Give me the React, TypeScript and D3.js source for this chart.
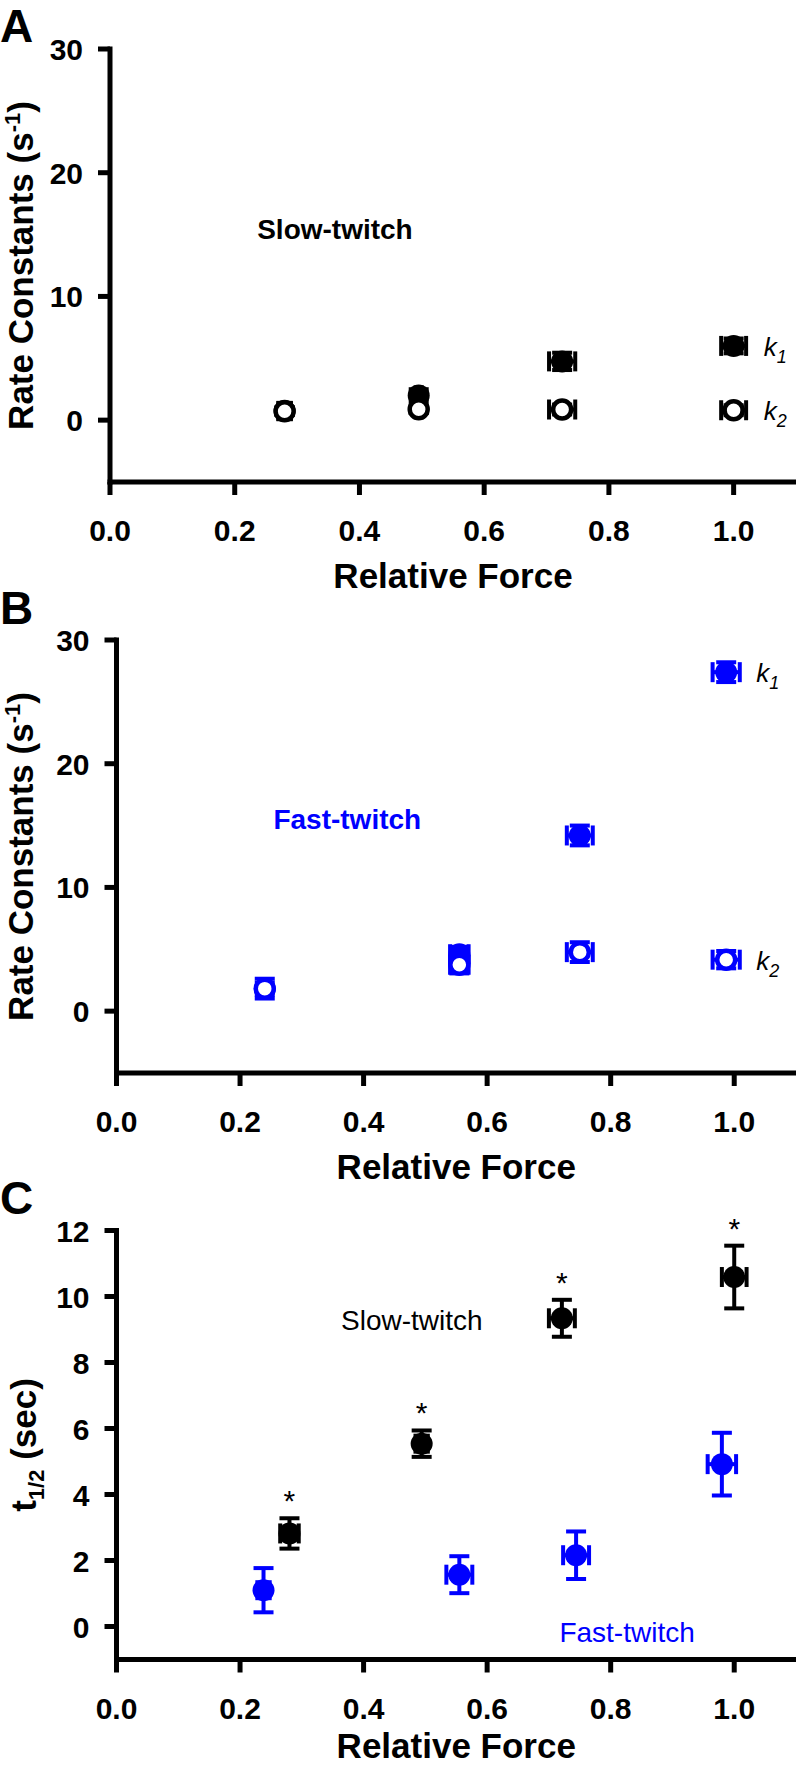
import React from 'react';
import * as d3 from 'd3';

const FONT = '"Liberation Sans", Arial, Helvetica, sans-serif';
const BLACK = '#000000';
const BLUE = '#0000ff';

// ---------- Panel A : slow-twitch rate constants ----------
const forceA = [0.28, 0.495, 0.725, 1.0];
const forceErrA = [0.01, 0.005, 0.021, 0.02];
const k1A = [0.75, 2.0, 4.75, 6.0];
const k1ErrA = [0.3, 0.5, 0.7, 0.6];
const k2A = [0.72, 0.88, 0.86, 0.8];
const k2ErrA = [0.3, 0.3, 0.4, 0.4];

// ---------- Panel B : fast-twitch rate constants ----------
const forceB = [0.24, 0.555, 0.75, 0.987];
const forceErrB = [0.008, 0.015, 0.021, 0.022];
const k1B = [1.8, 4.6, 14.2, 27.4];
const k1ErrB = [0.5, 0.6, 0.8, 0.8];
const k2B = [1.82, 3.75, 4.77, 4.16];
const k2ErrB = [0.8, 0.7, 0.8, 0.7];

// ---------- Panel C : t1/2 ----------
const forceSlowC = [0.28, 0.494, 0.721, 1.0];
const forceErrSlowC = [0.015, 0.01, 0.021, 0.02];
const tHalfSlow = [2.82, 5.54, 9.34, 10.59];
const tHalfErrSlow = [0.46, 0.4, 0.56, 0.95];
const significantSlow = [true, true, true, true];

const forceFastC = [0.238, 0.555, 0.744, 0.98];
const forceErrFastC = [0.01, 0.021, 0.021, 0.023];
const tHalfFast = [1.1, 1.57, 2.16, 4.92];
const tHalfErrFast = [0.67, 0.56, 0.72, 0.95];

const xTicks = [0, 0.2, 0.4, 0.6, 0.8, 1.0];
const yTicksRate = [0, 10, 20, 30];
const yTicksT = [0, 2, 4, 6, 8, 10, 12];

type Series = {
  x: number[];
  xe: number[];
  y: number[];
  ye: number[];
  color: string;
  open: boolean;
  label?: string;
  stars?: boolean[];
};

type Ann = { text: string; x: number; y: number; color: string; bold: boolean };

type PanelCfg = {
  letter: string;
  letterY: number;
  xRange: [number, number];
  yDomain: [number, number];
  yRange: [number, number];
  yTicks: number[];
  titleType: 'rate' | 'thalf';
  titleX: number;
  xTitleOffset: number;
  series: Series[];
  ann: Ann[];
};

const panels: PanelCfg[] = [
  {
    letter: 'A',
    letterY: 42,
    xRange: [110, 796],
    yDomain: [-5, 30],
    yRange: [482, 49],
    yTicks: yTicksRate,
    titleType: 'rate',
    titleX: 33,
    xTitleOffset: 106,
    series: [
      { x: forceA, xe: forceErrA, y: k1A, ye: k1ErrA, color: BLACK, open: false, label: '1' },
      { x: forceA, xe: forceErrA, y: k2A, ye: k2ErrA, color: BLACK, open: true, label: '2' },
    ],
    ann: [{ text: 'Slow-twitch', x: 0.236, y: 14.66, color: BLACK, bold: true }],
  },
  {
    letter: 'B',
    letterY: 624,
    xRange: [116.5, 796],
    yDomain: [-5, 30],
    yRange: [1073, 640],
    yTicks: yTicksRate,
    titleType: 'rate',
    titleX: 33,
    xTitleOffset: 106,
    series: [
      { x: forceB, xe: forceErrB, y: k1B, ye: k1ErrB, color: BLUE, open: false, label: '1' },
      { x: forceB, xe: forceErrB, y: k2B, ye: k2ErrB, color: BLUE, open: true, label: '2' },
    ],
    ann: [{ text: 'Fast-twitch', x: 0.254, y: 14.7, color: BLUE, bold: true }],
  },
  {
    letter: 'C',
    letterY: 1214,
    xRange: [116.5, 796],
    yDomain: [-1, 12],
    yRange: [1659.5, 1230.5],
    yTicks: yTicksT,
    titleType: 'thalf',
    titleX: 36,
    xTitleOffset: 98.5,
    series: [
      { x: forceFastC, xe: forceErrFastC, y: tHalfFast, ye: tHalfErrFast, color: BLUE, open: false },
      {
        x: forceSlowC,
        xe: forceErrSlowC,
        y: tHalfSlow,
        ye: tHalfErrSlow,
        color: BLACK,
        open: false,
        stars: significantSlow,
      },
    ],
    ann: [
      { text: 'Slow-twitch', x: 0.3635, y: 8.98, color: BLACK, bold: false },
      { text: 'Fast-twitch', x: 0.717, y: -0.46, color: BLUE, bold: false },
    ],
  },
];

const AXIS_W = 5;
const CAP = 10;
const ERR_W = 4;

function Panel({ cfg }: { cfg: PanelCfg }) {
  const xs = d3.scaleLinear().domain([0, 1.1]).range(cfg.xRange);
  const ys = d3.scaleLinear().domain(cfg.yDomain).range(cfg.yRange);
  const x0 = xs(0);
  const yBottom = ys(cfg.yDomain[0]);
  const yTop = ys(cfg.yDomain[1]);
  const fmt = d3.format('.1f');
  const yMid = (yTop + yBottom) / 2;
  const xMid = (xs(0) + xs(1.1)) / 2;

  return (
    <g>
      <text x={0} y={cfg.letterY} fontFamily={FONT} fontWeight="bold" fontSize={46} fill="#000">
        {cfg.letter}
      </text>

      {/* axes */}
      <line x1={x0} x2={x0} y1={yTop - AXIS_W / 2} y2={yBottom + AXIS_W / 2} stroke="#000" strokeWidth={AXIS_W} />
      <line x1={x0 - AXIS_W / 2} x2={xs(1.1)} y1={yBottom} y2={yBottom} stroke="#000" strokeWidth={AXIS_W} />

      {cfg.yTicks.map((t) => (
        <g key={'yt' + t}>
          <line x1={x0 - 12} x2={x0} y1={ys(t)} y2={ys(t)} stroke="#000" strokeWidth={AXIS_W} />
          <text
            x={x0 - 27}
            y={ys(t) + 11}
            textAnchor="end"
            fontFamily={FONT}
            fontWeight="bold"
            fontSize={30}
            fill="#000"
          >
            {t}
          </text>
        </g>
      ))}
      {xTicks.map((t) => (
        <g key={'xt' + t}>
          <line x1={xs(t)} x2={xs(t)} y1={yBottom} y2={yBottom + 13} stroke="#000" strokeWidth={AXIS_W} />
          <text
            x={xs(t)}
            y={yBottom + 59}
            textAnchor="middle"
            fontFamily={FONT}
            fontWeight="bold"
            fontSize={30}
            fill="#000"
          >
            {fmt(t)}
          </text>
        </g>
      ))}

      <text
        x={xMid}
        y={yBottom + cfg.xTitleOffset}
        textAnchor="middle"
        fontFamily={FONT}
        fontWeight="bold"
        fontSize={35}
        fill="#000"
      >
        Relative Force
      </text>

      {cfg.titleType === 'rate' ? (
        <text
          transform={`translate(${cfg.titleX},${yMid}) rotate(-90)`}
          textAnchor="middle"
          fontFamily={FONT}
          fontWeight="bold"
          fontSize={35}
          fill="#000"
        >
          Rate Constants (s
          <tspan fontSize={22} dy={-13}>
            -1
          </tspan>
          <tspan dy={13}>)</tspan>
        </text>
      ) : (
        <text
          transform={`translate(${cfg.titleX},${yMid}) rotate(-90)`}
          textAnchor="middle"
          fontFamily={FONT}
          fontWeight="bold"
          fontSize={35}
          fill="#000"
        >
          t
          <tspan fontSize={22} dy={8}>
            1/2
          </tspan>
          <tspan dy={-8}> (sec)</tspan>
        </text>
      )}

      {cfg.ann.map((a, i) => (
        <text
          key={'ann' + i}
          x={xs(a.x)}
          y={ys(a.y)}
          fontFamily={FONT}
          fontWeight={a.bold ? 'bold' : 'normal'}
          fontSize={28}
          fill={a.color}
        >
          {a.text}
        </text>
      ))}

      {cfg.series.map((s, si) => (
        <g key={'s' + si}>
          {s.x.map((xv, i) => {
            const cx = xs(xv);
            const cy = ys(s.y[i]);
            const xl = xs(xv - s.xe[i]);
            const xr = xs(xv + s.xe[i]);
            const yt = ys(s.y[i] + s.ye[i]);
            const yb = ys(s.y[i] - s.ye[i]);
            return (
              <g key={'p' + i}>
                <g stroke={s.color} strokeWidth={ERR_W}>
                  <line x1={xl} x2={xr} y1={cy} y2={cy} />
                  <line x1={xl} x2={xl} y1={cy - CAP} y2={cy + CAP} />
                  <line x1={xr} x2={xr} y1={cy - CAP} y2={cy + CAP} />
                  <line x1={cx} x2={cx} y1={yt} y2={yb} />
                  <line x1={cx - CAP} x2={cx + CAP} y1={yt} y2={yt} />
                  <line x1={cx - CAP} x2={cx + CAP} y1={yb} y2={yb} />
                </g>
                {s.open ? (
                  <circle cx={cx} cy={cy} r={9} fill="#fff" stroke={s.color} strokeWidth={4.5} />
                ) : (
                  <circle cx={cx} cy={cy} r={11} fill={s.color} />
                )}
                {s.stars && s.stars[i] ? (
                  <text
                    x={cx}
                    y={yt - 7}
                    textAnchor="middle"
                    fontFamily={FONT}
                    fontSize={30}
                    fill="#000"
                  >
                    *
                  </text>
                ) : null}
              </g>
            );
          })}
          {s.label ? (
            <text
              x={xs(s.x[s.x.length - 1]) + 30}
              y={ys(s.y[s.y.length - 1]) + 10}
              fontFamily={FONT}
              fontStyle="italic"
              fontSize={26}
              fill="#000"
            >
              k
              <tspan fontSize={18} dy={7}>
                {s.label}
              </tspan>
            </text>
          ) : null}
        </g>
      ))}
    </g>
  );
}

export default function App() {
  return (
    <svg
      width={800}
      height={1766}
      viewBox="0 0 800 1766"
      style={{ position: 'absolute', left: 0, top: 0, background: '#fff' }}
    >
      <rect x={0} y={0} width={800} height={1766} fill="#fff" />
      {panels.map((p) => (
        <Panel key={p.letter} cfg={p} />
      ))}
    </svg>
  );
}
